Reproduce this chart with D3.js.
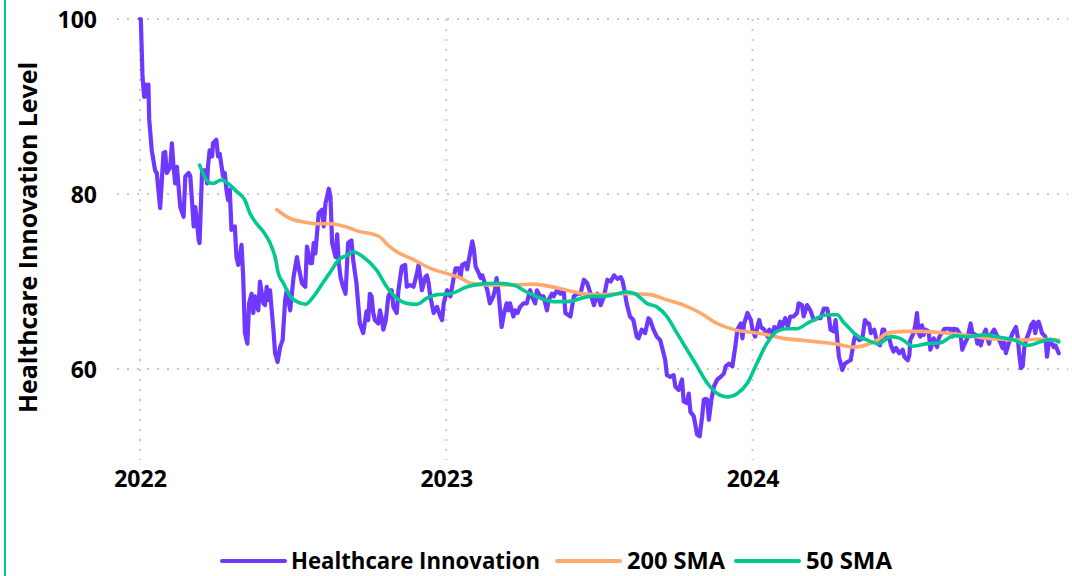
<!DOCTYPE html>
<html>
<head>
<meta charset="utf-8">
<script src="https://cdn.jsdelivr.net/npm/d3@7"></script>
<style>
  html, body { margin: 0; padding: 0; background: #fff; }
  svg { display: block; }
  text { font-family: "Open Sans", "Noto Sans", sans-serif; font-weight: 700; fill: #000; }
</style>
</head>
<body>
<svg id="chart" width="1072" height="576"></svg>
<script>
// ---- data (day offset from 2022-01-01, value) ----
const startDate = "2022-01-01";
const innovation = [[0,100],[1,100],[3,93.4],[5,91.1],[7,92.5],[9,91.1],[10,92.5],[11,88.5],[14,85.0],[18,82.7],[20,82.4],[24,78.4],[28,84.7],[30,84.8],[32,82.4],[36,83.1],[38,85.8],[40,83.1],[42,81.2],[44,83.1],[46,80.8],[48,78.5],[52,77.4],[54,82.0],[58,82.4],[60,82.0],[64,76.3],[66,78.5],[70,74.7],[71,74.4],[74,82.7],[78,82.7],[80,81.2],[81,83.1],[83,85.0],[86,84.3],[87,85.8],[91,86.2],[93,84.3],[95,84.6],[99,82.0],[101,82.4],[103,80.5],[105,79.3],[107,80.5],[109,75.9],[113,76.3],[115,72.8],[117,71.9],[119,72.8],[121,74.2],[123,70.5],[125,64.1],[128,62.9],[130,67.5],[133,68.6],[135,66.4],[137,68.3],[141,66.7],[143,70.0],[147,67.5],[149,67.3],[151,69.4],[153,67.9],[155,69.0],[157,66.7],[159,64.5],[161,61.8],[164,60.8],[167,62.5],[170,63.3],[173,67.9],[175,69.0],[179,66.7],[183,70.5],[187,72.8],[189,71.7],[193,69.8],[197,69.4],[199,74.0],[203,72.1],[205,72.1],[207,74.4],[209,73.2],[213,77.8],[217,78.2],[219,76.3],[221,78.9],[225,80.6],[227,79.7],[229,74.4],[233,72.8],[235,75.4],[237,72.1],[239,70.5],[242,69.4],[245,68.6],[248,74.4],[252,74.7],[254,72.5],[258,69.8],[262,65.2],[266,64.1],[270,66.6],[272,65.6],[274,68.6],[276,68.3],[278,66.4],[280,65.6],[284,65.2],[286,66.7],[288,65.9],[290,64.5],[293,65.6],[296,68.3],[300,69.0],[302,67.1],[306,66.4],[308,69.0],[312,71.7],[316,71.9],[318,69.4],[322,69.6],[326,69.4],[330,70.9],[332,71.9],[334,70.5],[336,69.0],[340,70.5],[342,70.7],[344,69.8],[346,68.3],[350,66.4],[354,67.1],[358,66.0],[360,65.6],[362,67.5],[366,69.0],[370,68.3],[374,70.5],[376,71.5],[380,71.5],[382,70.5],[384,71.9],[388,72.1],[390,71.4],[392,72.5],[396,74.6],[398,73.6],[400,71.7],[404,70.9],[406,70.4],[408,70.7],[410,70.1],[414,69.0],[417,67.5],[421,68.3],[423,69.0],[425,70.4],[427,69.0],[431,64.8],[434,66.4],[437,67.5],[439,66.7],[441,67.5],[445,66.0],[447,66.7],[450,66.4],[453,67.1],[457,67.5],[461,67.5],[463,68.3],[465,69.0],[467,68.3],[471,67.5],[473,69.0],[477,68.3],[481,68.3],[485,66.7],[487,67.9],[491,68.6],[493,68.3],[497,69.0],[501,68.6],[505,69.0],[507,66.4],[510,66.2],[513,66.0],[517,68.3],[521,68.6],[525,68.6],[529,70.2],[533,69.8],[537,68.6],[541,67.3],[545,68.6],[549,67.3],[553,68.3],[557,70.2],[561,70.0],[565,70.7],[569,70.3],[573,70.5],[575,70.1],[577,69.2],[580,67.5],[584,66.0],[588,65.6],[592,63.7],[594,63.5],[598,64.5],[602,64.1],[606,65.8],[608,65.6],[612,64.5],[616,63.7],[620,63.3],[624,61.8],[626,61.0],[628,59.3],[632,59.1],[636,59.3],[638,58.0],[642,57.6],[646,58.8],[648,56.3],[652,56.1],[654,57.2],[656,55.1],[660,54.6],[664,52.5],[667,52.3],[670,54.6],[672,56.5],[674,56.6],[676,56.5],[678,54.2],[681,56.5],[684,58.0],[688,58.8],[692,59.1],[696,59.5],[698,60.3],[702,60.6],[706,60.3],[710,62.9],[712,64.5],[716,65.2],[718,63.5],[720,65.2],[724,66.4],[728,65.6],[730,64.5],[733,63.7],[738,65.6],[740,64.8],[744,64.5],[748,63.7],[750,64.5],[754,64.1],[756,64.8],[760,64.5],[763,65.4],[765,64.8],[769,65.8],[772,64.8],[775,66.0],[779,66.0],[783,66.4],[785,67.5],[789,67.3],[791,66.0],[795,67.3],[799,66.7],[803,65.6],[807,65.8],[811,65.8],[815,66.9],[819,66.9],[821,66.0],[823,64.5],[827,64.3],[829,65.6],[833,61.4],[837,59.9],[840,60.6],[843,60.8],[847,61.0],[851,63.3],[853,63.9],[857,63.3],[861,63.5],[864,65.6],[867,65.2],[869,65.2],[871,64.1],[875,64.5],[879,62.9],[882,62.7],[885,64.5],[887,64.5],[889,63.5],[893,63.5],[895,62.7],[898,62.0],[901,62.4],[905,61.8],[909,62.2],[911,61.4],[915,61.0],[917,61.6],[918,63.3],[922,64.1],[924,65.0],[926,66.4],[928,64.1],[930,63.7],[932,65.0],[934,63.9],[936,64.5],[940,64.3],[942,62.2],[946,63.5],[948,62.9],[950,62.5],[952,63.5],[954,63.9],[959,64.6],[962,64.6],[966,64.6],[968,63.7],[970,64.6],[974,64.5],[978,63.9],[980,62.2],[982,62.7],[986,63.5],[990,65.2],[992,64.1],[996,63.9],[998,62.9],[1000,63.5],[1002,62.7],[1006,64.1],[1008,64.5],[1010,63.5],[1012,62.9],[1014,63.9],[1018,64.5],[1022,63.7],[1026,62.9],[1028,62.4],[1030,63.1],[1032,61.8],[1034,62.5],[1036,63.1],[1040,64.1],[1044,64.8],[1046,63.7],[1048,61.6],[1050,60.1],[1052,60.3],[1054,62.5],[1056,63.3],[1060,64.3],[1062,65.0],[1065,65.4],[1067,64.1],[1069,65.2],[1071,65.4],[1073,64.8],[1075,64.1],[1079,63.7],[1081,61.4],[1083,62.9],[1085,63.3],[1089,62.5],[1091,62.7],[1095,61.8]];

const sma200 = [[163,78.2],[179,77.2],[195,76.8],[211,76.6],[227,76.6],[247,76.2],[262,75.7],[274,75.5],[286,75.1],[295,74.2],[306,73.4],[326,72.5],[346,71.5],[366,70.9],[382,70.4],[394,69.8],[414,69.6],[445,69.6],[469,69.7],[485,69.5],[509,69.0],[529,68.6],[549,68.5],[569,68.6],[588,68.6],[608,68.5],[628,67.9],[648,67.3],[668,66.4],[688,65.2],[708,64.5],[728,64.2],[748,63.9],[767,63.5],[787,63.3],[807,63.1],[827,62.9],[851,62.5],[867,62.8],[879,63.3],[891,64.1],[911,64.3],[930,64.3],[950,64.2],[970,64.0],[990,63.8],[1010,63.5],[1030,63.4],[1050,63.3],[1069,63.4],[1095,63.3]];

const sma50 = [[71,83.3],[75,82.4],[81,81.4],[87,81.2],[97,81.6],[105,81.2],[115,80.3],[125,79.3],[131,77.8],[139,76.6],[147,75.7],[155,74.4],[161,72.8],[165,70.9],[171,69.8],[179,68.3],[187,67.7],[197,67.4],[207,68.3],[219,70.0],[227,71.1],[237,72.5],[247,73.0],[254,73.4],[266,72.8],[282,71.3],[294,69.4],[306,68.1],[318,67.5],[330,67.4],[342,68.1],[354,68.5],[370,68.6],[390,69.4],[406,69.7],[425,69.8],[445,69.6],[461,68.8],[477,68.1],[493,67.7],[509,67.7],[537,68.3],[553,68.3],[569,68.6],[580,68.8],[590,68.6],[604,67.5],[616,67.1],[628,66.0],[640,64.1],[652,62.2],[664,60.3],[676,58.4],[688,57.2],[700,56.8],[712,57.2],[724,58.4],[735,60.6],[747,62.9],[759,64.3],[771,64.6],[783,64.6],[795,65.2],[807,65.8],[819,66.2],[831,66.2],[838,65.4],[847,64.5],[853,63.9],[867,63.3],[880,62.9],[895,63.7],[906,63.5],[922,62.6],[938,62.9],[954,63.0],[970,63.8],[986,63.7],[1006,63.9],[1026,63.6],[1042,63.3],[1058,62.7],[1073,63.1],[1085,63.4],[1095,63.1]];

const yTicks = [60, 80, 100];
const xTickYears = [2022, 2023, 2024];
const seriesNames = ["Healthcare Innovation", "200 SMA", "50 SMA"];
const seriesColors = ["#6E38FF", "#FFA96C", "#00C98F"];
const yTitle = "Healthcare Innovation Level";

// ---- layout ----
const svg = d3.select("#chart");
const plot = { left: 117, right: 1068, top: 19, bottom: 460 };
const base = d3.timeParse("%Y-%m-%d")(startDate);
const toDate = d => d3.timeDay.offset(base, d);

const x = d3.scaleTime()
  .domain([new Date(2022, 0, 1), new Date(2025, 0, 1)])
  .range([140, 1059.6]);
const y = d3.scaleLinear().domain([49.6, 100]).range([plot.bottom, plot.top]);

// left accent border
svg.append("line").attr("x1", 5).attr("x2", 5).attr("y1", 0).attr("y2", 576)
  .attr("stroke", "#00C98F").attr("stroke-width", 2);

// gridlines
const grid = svg.append("g");
grid.selectAll("line.h").data(yTicks).join("line")
  .attr("x1", plot.left).attr("x2", plot.right)
  .attr("y1", d => y(d)).attr("y2", d => y(d))
  .attr("stroke", "#c8c8c8").attr("stroke-width", 2).attr("stroke-dasharray", "2,8");
grid.selectAll("line.v").data(xTickYears).join("line")
  .attr("x1", d => x(new Date(d, 0, 1))).attr("x2", d => x(new Date(d, 0, 1)))
  .attr("y1", plot.top).attr("y2", plot.bottom)
  .attr("stroke", "#c8c8c8").attr("stroke-width", 2).attr("stroke-dasharray", "2,8");

// axes labels via d3 axes
const yAxis = svg.append("g").attr("transform", `translate(${plot.left},0)`)
  .call(d3.axisLeft(y).tickValues(yTicks).tickSize(0).tickPadding(20));
yAxis.select(".domain").remove();
yAxis.selectAll("text").style("font-size", "23px").attr("font-family", null).attr("dy", "0.36em");

const xAxis = svg.append("g").attr("transform", `translate(0,${plot.bottom})`)
  .call(d3.axisBottom(x).tickValues(xTickYears.map(v => new Date(v, 0, 1))).tickFormat(d3.timeFormat("%Y")).tickSize(0).tickPadding(11));
xAxis.select(".domain").remove();
xAxis.selectAll("text").style("font-size", "23px").attr("font-family", null);

// y title
svg.append("text")
  .attr("transform", "translate(36.5,237.5) rotate(-90)")
  .attr("text-anchor", "middle")
  .attr("textLength", 351).attr("lengthAdjust", "spacingAndGlyphs")
  .style("font-size", "25.5px")
  .text(yTitle);

// lines
const lineGen = d3.line().x(d => x(toDate(d[0]))).y(d => y(d[1]));
const smoothGen = d3.line().x(d => x(toDate(d[0]))).y(d => y(d[1])).curve(d3.curveMonotoneX);

svg.append("path").datum(innovation).attr("d", lineGen)
  .attr("fill", "none").attr("stroke", seriesColors[0]).attr("stroke-width", 4.2)
  .attr("stroke-linejoin", "round").attr("stroke-linecap", "round");
svg.append("path").datum(sma200).attr("d", smoothGen)
  .attr("fill", "none").attr("stroke", seriesColors[1]).attr("stroke-width", 3.6)
  .attr("stroke-linejoin", "round").attr("stroke-linecap", "round");
svg.append("path").datum(sma50).attr("d", smoothGen)
  .attr("fill", "none").attr("stroke", seriesColors[2]).attr("stroke-width", 3.6)
  .attr("stroke-linejoin", "round").attr("stroke-linecap", "round");

// legend
const legendItems = [
  { name: seriesNames[0], color: seriesColors[0], lx: 222, tx: 291, tw: 249 },
  { name: seriesNames[1], color: seriesColors[1], lx: 557, tx: 627, tw: 98 },
  { name: seriesNames[2], color: seriesColors[2], lx: 736, tx: 806, tw: 86 }
];
const lg = svg.append("g");
legendItems.forEach(it => {
  lg.append("line").attr("x1", it.lx).attr("x2", it.lx + 63)
    .attr("y1", 561).attr("y2", 561)
    .attr("stroke", it.color).attr("stroke-width", 4).attr("stroke-linecap", "round");
  lg.append("text").attr("x", it.tx).attr("y", 569)
    .attr("textLength", it.tw).attr("lengthAdjust", "spacingAndGlyphs")
    .style("font-size", "23px").text(it.name);
});
</script>
</body>
</html>
